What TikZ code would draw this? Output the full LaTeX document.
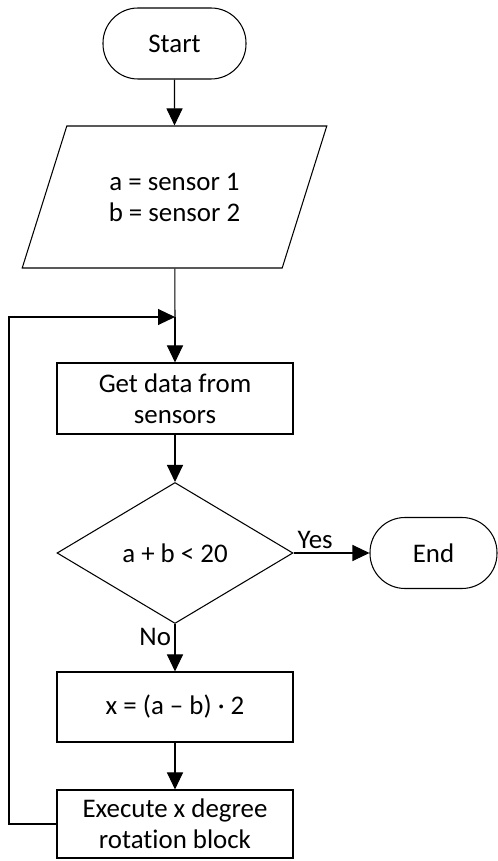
\documentclass[tikz,border=0pt]{standalone}
\usepackage{fontspec}
\setmainfont{Carlito}[Ligatures=NoCommon]
\usetikzlibrary{shapes.geometric,arrows.meta}

\begin{document}
\begin{tikzpicture}[x=1cm,y=1cm,>={Triangle[length=0.34cm,width=0.32cm]},
  every node/.style={font=\fontsize{15.3}{17.6}\selectfont},
  every path/.style={line width=0.6pt},
  term/.style={draw,rounded corners=0.7cm,minimum width=2.86cm,minimum height=1.42cm},
  io/.style={draw,trapezium,trapezium left angle=63.76,trapezium right angle=116.24,
    trapezium stretches=true,minimum width=6.1cm,minimum height=2.84cm,align=center},
  proc/.style={draw,minimum width=4.72cm,minimum height=1.42cm,align=center},
  dec/.style={draw,diamond,minimum width=4.72cm,minimum height=2.82cm,inner sep=0pt}]
 \useasboundingbox (0,0) rectangle (9.96,17.22);
 % main column
 \node[term] (start) at (3.49,16.35) {Start};
 \node[io] (read) at (3.49,13.28) {a = sensor 1\\b = sensor 2};
 \coordinate (join) at (3.5,10.88);
 \node[proc] (get) at (3.5,9.25) {Get data from\\sensors};
 \node[dec] (test) at (3.5,6.16) {a + b < 20};
 \node[term,minimum width=2.54cm] (end) at (8.67,6.16) {End};
 \node[proc,minimum height=1.4cm] (calc) at (3.5,3.08) {x = (a – b) · 2};
 \node[proc,minimum height=1.36cm] (rot) at (3.5,0.74) {Execute x degree\\rotation block};
 \node[above right,inner sep=2pt] (yes) at (test.east) {Yes};
 \node[below left,inner sep=2pt] (no) at (test.south) {No};
 % connectors
 \draw[->] (start) -- (read);
 \draw (read) -- (join);
 \draw[->] (join) -- (get);
 \draw[->] (get) -- (test);
 \draw[->] (test) -- (end);
 \draw[->] (test) -- (calc);
 \draw[->] (calc) -- (rot);
 \draw[->] (rot.west) -- (0.18,0.74) |- (join);
\end{tikzpicture}
\end{document}
